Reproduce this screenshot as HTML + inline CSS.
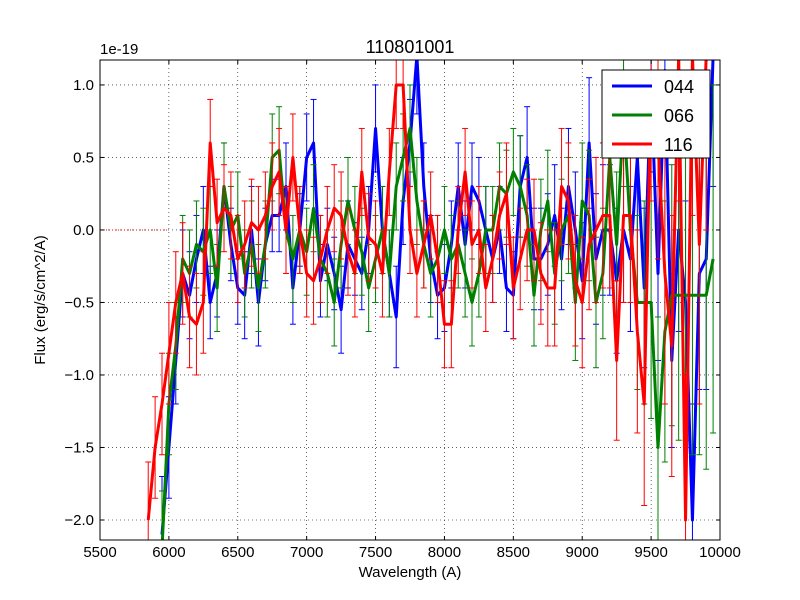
<!DOCTYPE html>
<html><head><meta charset="utf-8"><style>
html,body{margin:0;padding:0;background:#fff;overflow:hidden;width:800px;height:600px;}
svg{display:block;}
svg text{font-family:"Liberation Sans","DejaVu Sans",sans-serif;}
</style></head><body>
<svg id="c" width="800" height="600" xmlns="http://www.w3.org/2000/svg">
<rect width="800" height="600" fill="#fff"/>
<defs><clipPath id="clip"><rect x="100" y="60" width="620" height="480"/></clipPath></defs>
<g id="grid"></g>
<g id="plot" clip-path="url(#clip)"></g>
<rect x="100" y="60" width="620" height="480" fill="none" stroke="#000" stroke-width="1"/>
<g id="axes"></g>
<text x="410" y="53" font-size="18" text-anchor="middle">110801001</text>
<text x="100" y="54" font-size="15">1e-19</text>
<text x="410" y="577" font-size="15" text-anchor="middle">Wavelength (A)</text>
<text x="45" y="300" font-size="15" text-anchor="middle" transform="rotate(-90 45 300)">Flux (erg/s/cm^2/A)</text>
<g id="legend">
<rect x="602" y="70" width="108" height="88" fill="#fff" stroke="#000" stroke-width="1"/>
</g>
</svg>
<script>
const xTicks=[5500,6000,6500,7000,7500,8000,8500,9000,9500,10000];
const yTicks=[1.0,0.5,0.0,-0.5,-1.0,-1.5,-2.0];
const seriesNames=["044","066","116"];
const seriesColors=["#0000ff","#008000","#ff0000"];
const waveBlue=[5950,6000,6050,6100,6150,6200,6250,6300,6350,6400,6450,6500,6550,6600,6650,6700,6750,6800,6850,6900,6950,7000,7050,7100,7150,7200,7250,7300,7350,7400,7450,7500,7550,7600,7650,7700,7750,7800,7850,7900,7950,8000,8050,8100,8150,8200,8250,8300,8350,8400,8450,8500,8550,8600,8650,8700,8750,8800,8850,8900,8950,9000,9050,9100,9150,9200,9250,9300,9350,9400,9450,9500,9550,9600,9650,9700,9750,9800,9850,9900,9950];
const fluxBlue=[-2.1,-1.5,-0.9,-0.3,-0.45,-0.2,0.0,-0.5,-0.3,0.3,-0.1,-0.4,-0.45,0.0,-0.5,-0.1,0.1,0.1,0.3,-0.4,0.0,0.5,0.6,-0.35,-0.1,-0.3,-0.55,-0.1,-0.2,-0.3,0.0,0.7,0.0,-0.3,-0.6,0.2,0.6,1.2,0.3,-0.2,-0.45,-0.4,-0.1,0.3,-0.1,0.3,0.2,0.0,-0.2,0.0,-0.4,-0.45,0.3,0.5,-0.2,-0.2,-0.1,0.1,-0.2,0.3,0.0,-0.35,0.6,-0.2,0.0,0.0,-0.35,0.0,-0.2,0.5,-0.4,1.0,-0.3,1.1,-0.9,0.0,-0.5,-2.0,-0.3,-0.2,1.2];
const errBlue=[0.4,0.35,0.3,0.3,0.3,0.3,0.3,0.25,0.3,0.3,0.25,0.25,0.3,0.3,0.3,0.25,0.25,0.25,0.3,0.25,0.25,0.3,0.3,0.25,0.25,0.25,0.3,0.3,0.25,0.25,0.3,0.3,0.3,0.3,0.35,0.3,0.3,0.4,0.3,0.3,0.3,0.3,0.3,0.3,0.3,0.3,0.3,0.3,0.3,0.3,0.3,0.3,0.35,0.35,0.35,0.35,0.35,0.35,0.35,0.4,0.4,0.4,0.45,0.45,0.45,0.45,0.5,0.5,0.5,0.5,0.55,0.6,0.6,0.6,0.6,0.7,0.7,0.8,0.8,0.9,0.9];
const waveGreen=waveBlue;
const fluxGreen=[-2.2,-1.2,-0.8,-0.2,-0.3,-0.1,-0.15,0.0,-0.4,0.3,0.0,0.1,-0.3,-0.1,-0.4,-0.1,0.5,0.55,0.0,-0.2,0.0,-0.15,0.15,-0.2,-0.3,-0.5,-0.1,0.2,0.0,-0.15,-0.4,-0.2,0.0,-0.3,0.3,0.5,0.7,0.2,-0.1,-0.3,-0.2,0.0,-0.2,-0.1,-0.3,-0.5,-0.3,0.0,0.0,0.3,0.25,0.4,0.3,0.1,-0.45,0.0,0.2,-0.3,0.0,0.1,-0.5,0.2,0.1,-0.5,-0.3,0.5,-0.1,0.8,0.0,-0.5,-0.5,-0.5,-1.5,-0.7,-0.45,-0.45,-0.45,-0.45,-0.45,-0.45,-0.2];
const errGreen=[0.4,0.35,0.3,0.3,0.3,0.3,0.3,0.3,0.3,0.3,0.3,0.3,0.3,0.3,0.3,0.3,0.3,0.3,0.3,0.3,0.3,0.3,0.3,0.3,0.3,0.3,0.3,0.3,0.3,0.3,0.3,0.3,0.3,0.3,0.3,0.3,0.3,0.3,0.3,0.3,0.3,0.3,0.3,0.3,0.3,0.3,0.3,0.3,0.3,0.3,0.3,0.3,0.35,0.35,0.35,0.35,0.35,0.35,0.35,0.4,0.4,0.4,0.45,0.45,0.45,0.5,0.5,0.5,0.5,0.6,0.7,0.8,0.9,0.9,0.9,1.0,1.0,1.1,1.1,1.2,1.2];
const waveRed=[5850,5900,5950,6000,6050,6100,6150,6200,6250,6300,6350,6400,6450,6500,6550,6600,6650,6700,6750,6800,6850,6900,6950,7000,7050,7100,7150,7200,7250,7300,7350,7400,7450,7500,7550,7600,7650,7700,7750,7800,7850,7900,7950,8000,8050,8100,8150,8200,8250,8300,8350,8400,8450,8500,8550,8600,8650,8700,8750,8800,8850,8900,8950,9000,9050,9100,9150,9200,9250,9300,9350,9400,9450,9500,9550,9600,9650,9700,9750,9800,9850,9900];
const fluxRed=[-2.0,-1.5,-1.2,-0.85,-0.5,-0.3,-0.6,-0.65,-0.5,0.6,0.05,0.15,0.1,-0.2,-0.1,0.05,0.0,0.1,0.3,0.4,0.0,0.5,0.0,-0.3,-0.35,-0.2,0.0,0.15,0.1,-0.15,-0.3,0.4,-0.05,-0.1,-0.3,0.4,1.0,1.0,0.0,-0.3,-0.1,0.1,-0.2,-0.65,-0.65,0.0,0.4,-0.1,0.0,-0.4,-0.2,0.1,0.25,-0.4,-0.2,0.0,0.0,-0.3,-0.4,-0.4,0.3,0.2,-0.35,-0.5,-0.1,0.0,0.1,0.1,-0.9,0.1,0.1,-0.7,-1.2,1.0,0.6,-0.3,-0.8,1.2,-2.0,1.2,-0.1,1.2];
const errRed=[0.4,0.35,0.35,0.35,0.35,0.35,0.35,0.35,0.35,0.3,0.3,0.3,0.3,0.3,0.3,0.3,0.3,0.3,0.3,0.3,0.3,0.3,0.3,0.3,0.3,0.3,0.3,0.3,0.3,0.3,0.3,0.3,0.3,0.3,0.3,0.3,0.3,0.3,0.3,0.3,0.3,0.3,0.3,0.3,0.3,0.3,0.3,0.3,0.3,0.3,0.3,0.3,0.35,0.35,0.35,0.35,0.35,0.35,0.4,0.4,0.4,0.4,0.45,0.45,0.45,0.5,0.5,0.5,0.55,0.6,0.6,0.7,0.7,0.8,0.8,0.9,0.9,1.0,1.0,1.1,1.1,1.2];

const NS="http://www.w3.org/2000/svg";
const X0=100,X1=720,Y0=540,Y1=60,xmin=5500,xmax=10000,ymin=-2.138,ymax=1.172;
const xs=v=>X0+(v-xmin)/(xmax-xmin)*(X1-X0);
const ys=v=>Y0-(v-ymin)/(ymax-ymin)*(Y0-Y1);
const clampY=y=>Math.max(Y1,Math.min(Y0,y));
function mk(tag,attrs,parent){const e=document.createElementNS(NS,tag);for(const k in attrs)e.setAttribute(k,attrs[k]);parent.appendChild(e);return e;}
const grid=document.getElementById('grid'),axes=document.getElementById('axes'),plot=document.getElementById('plot');
xTicks.forEach(t=>{const x=xs(t);
 const g=mk('line',{x1:x,x2:x,y1:Y1,y2:Y0,stroke:'#000','stroke-dasharray':'1,3','stroke-width':0.6},grid);
 
 
 mk('line',{x1:x,x2:x,y1:Y0,y2:Y0-4,stroke:'#000'},axes);
 mk('line',{x1:x,x2:x,y1:Y1,y2:Y1+4,stroke:'#000'},axes);
 const tx=mk('text',{x:x,y:Y0+17,'font-size':15,'text-anchor':'middle'},axes);tx.textContent=t;
 
 
});
yTicks.forEach(t=>{const y=ys(t);
 const g=mk('line',{x1:X0,x2:X1,y1:y,y2:y,stroke:'#000','stroke-dasharray':'1,3','stroke-width':0.6},grid);
 
 
 mk('line',{x1:X0,x2:X0+4,y1:y,y2:y,stroke:'#000'},axes);
 mk('line',{x1:X1,x2:X1-4,y1:y,y2:y,stroke:'#000'},axes);
 const tx=mk('text',{x:X0-6,y:y+5,'font-size':15,'text-anchor':'end'},axes);tx.textContent=(t<0?'\u2212':'')+Math.abs(t).toFixed(1);
 
 
});
const zl=mk('line',{x1:X0,x2:xs(6000),y1:ys(0),y2:ys(0),stroke:'#ff0000','stroke-dasharray':'1,2'},plot);


const allW=[waveBlue,waveGreen,waveRed],allF=[fluxBlue,fluxGreen,fluxRed],allE=[errBlue,errGreen,errRed];
[0,1,2].forEach(s=>{
 const col=seriesColors[s],W=allW[s],F=allF[s],E=allE[s];
 const g=mk('g',{},plot);
 
 
 W.forEach((w,i)=>{const x=xs(w),ytr=ys(F[i]+E[i]),ybr=ys(F[i]-E[i]);
  const yt=clampY(ytr),yb=clampY(ybr);
  if(yt<yb) mk('line',{x1:x,x2:x,y1:yt,y2:yb,stroke:col,'stroke-width':1},g);
  if(ytr>=Y1&&ytr<=Y0) mk('line',{x1:x-3,x2:x+3,y1:ytr,y2:ytr,stroke:col,'stroke-width':1},g);
  if(ybr>=Y1&&ybr<=Y0) mk('line',{x1:x-3,x2:x+3,y1:ybr,y2:ybr,stroke:col,'stroke-width':1},g);
 });
 const p=mk('polyline',{points:W.map((w,i)=>xs(w)+','+ys(F[i])).join(' '),fill:'none',stroke:col,'stroke-width':3,'stroke-linejoin':'round'},g);
 
 
});
const lg=document.getElementById('legend');
seriesNames.forEach((n,i)=>{const y=86+i*29;
 const l=mk('line',{x1:612,x2:652,y1:y,y2:y,stroke:seriesColors[i],'stroke-width':3},lg);
 
 
 const t=mk('text',{x:664,y:y+7,'font-size':18},lg);t.textContent=n;
 
 
});
</script>
</body></html>
